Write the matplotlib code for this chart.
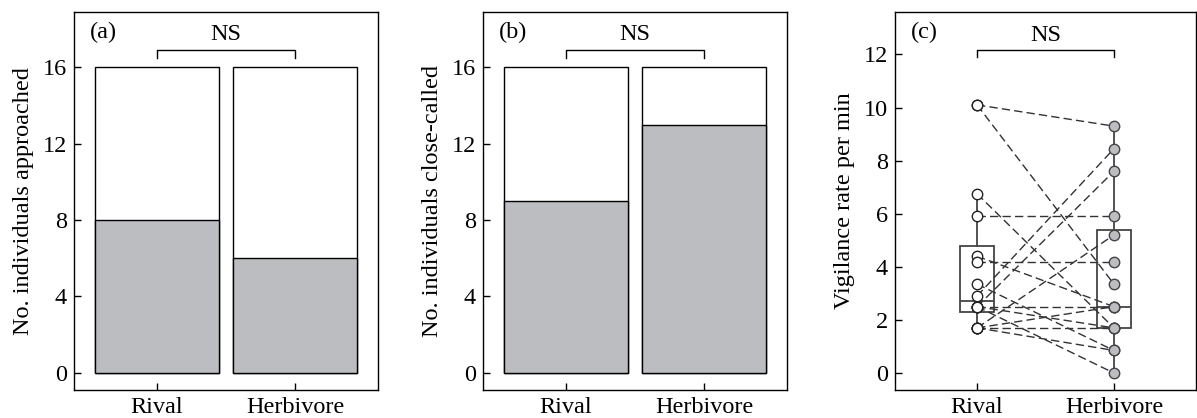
import numpy as np
import matplotlib
matplotlib.use("Agg")
import matplotlib.pyplot as plt

plt.rcParams['font.family'] = ['Liberation Serif', 'DejaVu Serif']

groups = ["Rival", "Herbivore"]
total = [16, 16]
approached = [8, 6]
close_called = [9, 13]

# paired vigilance rates (per min), one entry per individual
vig_rival = [10.1, 10.1, 6.75, 5.9, 4.4, 4.2, 2.9, 2.5, 1.7, 2.5, 1.7, 2.5, 1.7, 1.7, 2.5, 3.35]
vig_herb = [9.3, 3.35, 1.7, 5.9, 2.5, 4.2, 8.45, 7.6, 5.2, 2.5, 2.5, 1.7, 1.7, 0.85, 0.0, 0.85]

W, H = 1197, 418
fig = plt.figure(figsize=(W / 100, H / 100), dpi=100)

def rect(left, right, top=12, bottom=390):
    return [left / W, 1 - bottom / H, (right - left) / W, (bottom - top) / H]

fs = 17.5
grey = "#bcbdc0"

def style(ax):
    ax.tick_params(direction="in", length=5, width=1, labelsize=fs, pad=5)
    ax.tick_params(axis="x", pad=5)
    for s in ax.spines.values():
        s.set_linewidth(1)
    ax.set_xticks([0, 1])
    ax.set_xticklabels(groups)
    ax.set_xlim(-0.6, 1.6)

def bracket(ax, y0, y1, ytext):
    ax.plot([0, 0, 1, 1], [y0, y1, y1, y0], color="black", lw=1)
    ax.text(0.5, ytext, "NS", ha="center", va="center", fontsize=fs)

for pos, vals, lab, tag in [((74, 378), approached, "No. individuals approached", "(a)"),
                             ((483, 787), close_called, "No. individuals close-called", "(b)")]:
    ax = fig.add_axes(rect(*pos))
    x = np.arange(len(groups))
    ax.bar(x, total, width=0.9, color="white", edgecolor="black", lw=1)
    ax.bar(x, vals, width=0.9, color=grey, edgecolor="black", lw=1)
    style(ax)
    ax.set_ylim(-0.9, 18.9)
    ax.set_yticks([0, 4, 8, 12, 16])
    ax.set_ylabel(lab, fontsize=fs, labelpad=6)
    bracket(ax, 16.5, 16.9, 17.7)
    ax.text(0.053, 0.945, tag, transform=ax.transAxes, fontsize=fs, ha="left", va="center")

ax = fig.add_axes(rect(895, 1196))
for r, h in zip(vig_rival, vig_herb):
    ax.plot([0, 1], [r, h], color="#333333", lw=1, ls=(0, (6, 3)), zorder=2)
bp = ax.boxplot([vig_rival, vig_herb], positions=[0, 1], widths=0.25, showfliers=False,
                showcaps=False, patch_artist=True, zorder=1)
for b in bp["boxes"]:
    b.set(facecolor="none", edgecolor="#444444", lw=1.3)
for w in bp["whiskers"]:
    w.set(color="#444444", lw=1.3)
for m in bp["medians"]:
    m.set(color="#444444", lw=1.3)
ax.plot(np.zeros(len(vig_rival)), vig_rival, "o", ms=7.5, mfc="white", mec="#222222", mew=1, zorder=3)
ax.plot(np.ones(len(vig_herb)), vig_herb, "o", ms=7.5, mfc=grey, mec="#444444", mew=1, zorder=3)
style(ax)
ax.set_ylim(-0.64, 13.6)
ax.set_yticks([0, 2, 4, 6, 8, 10, 12])
ax.set_ylabel("Vigilance rate per min", fontsize=fs, labelpad=6)
bracket(ax, 11.9, 12.15, 12.7)
ax.text(0.053, 0.945, "(c)", transform=ax.transAxes, fontsize=fs, ha="left", va="center")

fig.savefig("out.png", dpi=100)
